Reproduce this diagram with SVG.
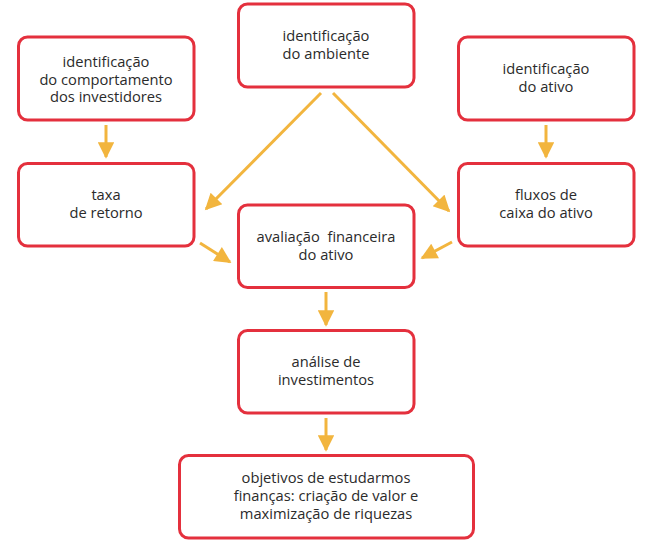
<svg xmlns="http://www.w3.org/2000/svg" width="670" height="550" viewBox="0 0 670 550">
<defs>
<style>
.box{fill:#fff;stroke:#e4303d;stroke-width:3}
.t{font-family:"Open Sans","Noto Sans",sans-serif;font-size:14.7px;fill:#2b2b2b;text-anchor:middle;white-space:pre}
.c{stroke:#f2b53e;stroke-width:3;fill:none}
</style>
<marker id="ah" viewBox="0 0 10 10" refX="9" refY="5" markerWidth="6" markerHeight="5.5" markerUnits="strokeWidth" orient="auto">
<path d="M0,0 L10,5 L0,10 z" fill="#f2b53e"/>
</marker>
</defs>
<rect width="670" height="550" fill="#fff"/>
<g id="n-comportamento">
<rect class="box" x="18.5" y="37" width="175.5" height="83" rx="9"/>
<text class="t" x="106" y="67">identificação</text>
<text class="t" x="106" y="84.5">do comportamento</text>
<text class="t" x="106" y="102">dos investidores</text>
</g>
<g id="n-ambiente">
<rect class="box" x="238.5" y="4" width="175.5" height="83" rx="9"/>
<text class="t" x="326" y="41">identificação</text>
<text class="t" x="326" y="58.5">do ambiente</text>
</g>
<g id="n-ativo">
<rect class="box" x="458.5" y="37" width="175.5" height="83" rx="9"/>
<text class="t" x="546" y="74">identificação</text>
<text class="t" x="546" y="91.5">do ativo</text>
</g>
<g id="n-taxa">
<rect class="box" x="18.5" y="163.5" width="175.5" height="82.5" rx="9"/>
<text class="t" x="106" y="200">taxa</text>
<text class="t" x="106" y="217.5">de retorno</text>
</g>
<g id="n-fluxos">
<rect class="box" x="458.5" y="163.5" width="175.5" height="82.5" rx="9"/>
<text class="t" x="546" y="200">fluxos de</text>
<text class="t" x="546" y="217.5">caixa do ativo</text>
</g>
<g id="n-avaliacao">
<rect class="box" x="238.5" y="205" width="175.5" height="82.5" rx="9"/>
<text class="t" x="326" y="242">avaliação  financeira</text>
<text class="t" x="326" y="259.5">do ativo</text>
</g>
<g id="n-analise">
<rect class="box" x="238.5" y="330.5" width="175.5" height="82.5" rx="9"/>
<text class="t" x="326" y="367">análise de</text>
<text class="t" x="326" y="384.5">investimentos</text>
</g>
<g id="n-objetivos">
<rect class="box" x="179.5" y="455.5" width="294" height="82.5" rx="9"/>
<text class="t" x="326" y="483">objetivos de estudarmos</text>
<text class="t" x="326" y="501">finanças: criação de valor e</text>
<text class="t" x="326" y="519">maximização de riquezas</text>
</g>
<g id="connectors">
<line class="c" x1="106" y1="125" x2="106" y2="157" marker-end="url(#ah)"/>
<line class="c" x1="546" y1="125" x2="546" y2="157" marker-end="url(#ah)"/>
<line class="c" x1="321" y1="93" x2="206" y2="209" marker-end="url(#ah)"/>
<line class="c" x1="333" y1="93" x2="449" y2="211" marker-end="url(#ah)"/>
<line class="c" x1="200" y1="243" x2="230" y2="262" marker-end="url(#ah)"/>
<line class="c" x1="452" y1="242" x2="422" y2="258" marker-end="url(#ah)"/>
<line class="c" x1="326" y1="292" x2="326" y2="325" marker-end="url(#ah)"/>
<line class="c" x1="326" y1="418" x2="326" y2="450" marker-end="url(#ah)"/>
</g>
</svg>
